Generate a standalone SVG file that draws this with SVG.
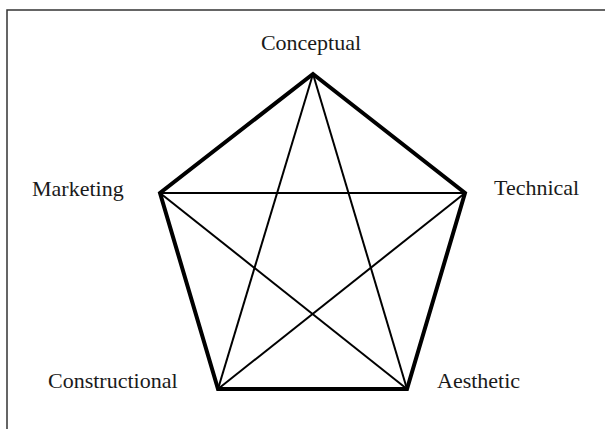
<svg xmlns="http://www.w3.org/2000/svg" width="605" height="429" viewBox="0 0 605 429">
  <style>
    .lbl { font-family: "Liberation Serif", "Times New Roman", serif; font-size: 22px; fill: #1a1a1a; }
    .edge { stroke: #000; stroke-width: 4; stroke-linecap: square; stroke-linejoin: miter; fill: none; }
    .diag { stroke: #000; stroke-width: 2; fill: none; }
    .frame { stroke: #333; stroke-width: 1.5; fill: none; }
  </style>
  <rect x="0" y="0" width="605" height="429" fill="#fff"/>
  <path class="frame" d="M7,429 V10 H605"/>
  <g id="connectors">
    <path class="diag" d="M313,74 L218,389"/>
    <path class="diag" d="M313,74 L407,389"/>
    <path class="diag" d="M160,193 L465,193"/>
    <path class="diag" d="M160,193 L407,389"/>
    <path class="diag" d="M465,193 L218,389"/>
    <polygon class="edge" points="313,74 465,193 407,389 218,389 160,193"/>
  </g>
  <g id="conceptual"><text class="lbl" x="311" y="50" text-anchor="middle">Conceptual</text></g>
  <g id="marketing"><text class="lbl" x="32" y="196">Marketing</text></g>
  <g id="technical"><text class="lbl" x="494" y="195">Technical</text></g>
  <g id="constructional"><text class="lbl" x="48" y="388">Constructional</text></g>
  <g id="aesthetic"><text class="lbl" x="437" y="388">Aesthetic</text></g>
</svg>
